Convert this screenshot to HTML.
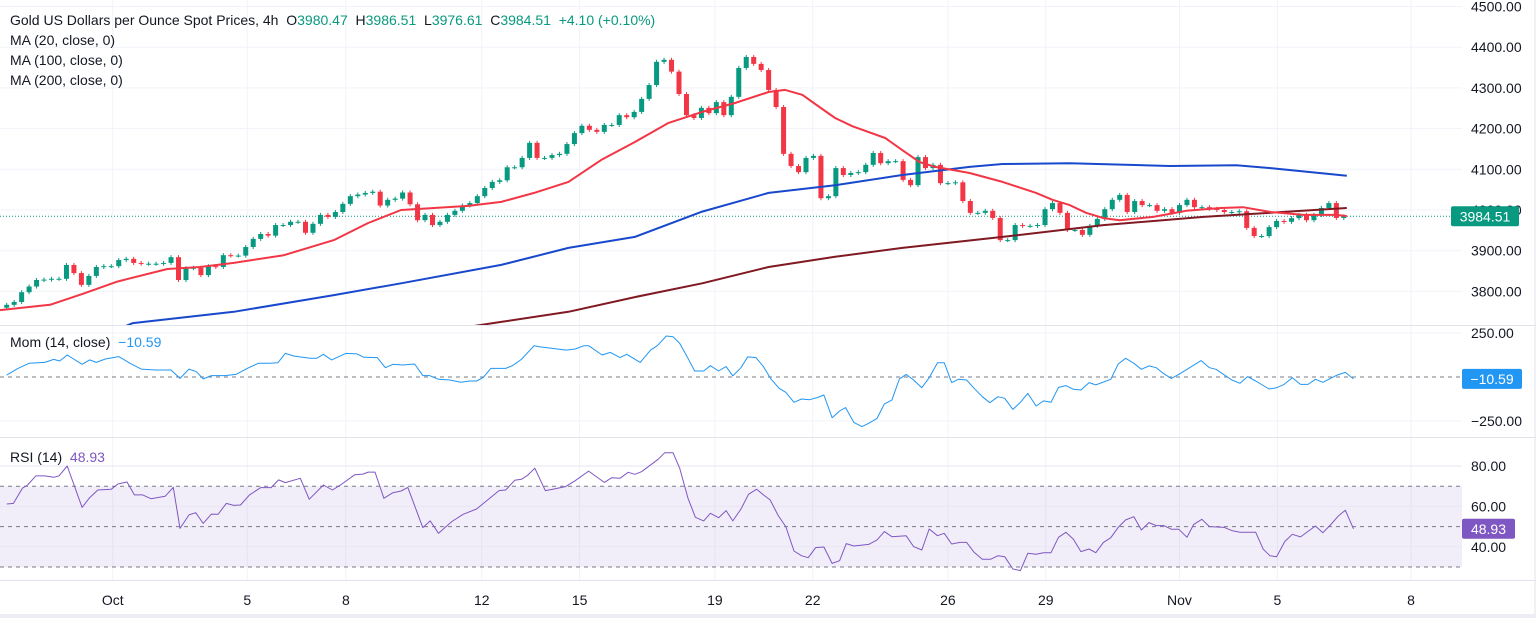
<!DOCTYPE html>
<html><head><meta charset="utf-8"><style>
html,body{margin:0;padding:0;background:#fff;}
svg{display:block;font-family:"Liberation Sans",sans-serif;}
</style></head><body>
<svg id="chart" width="1536" height="618" viewBox="0 0 1536 618" xmlns="http://www.w3.org/2000/svg">
<rect x="0" y="0" width="1536" height="618" fill="#ffffff"/>
<g id="grid"></g>
<g id="marks"></g>
<g id="labels"></g>
</svg>
<script>
// ---- data ----
const closes = [3767,3774,3798,3812,3828,3829,3831,3831,3865,3845,3816,3838,3860,3862,3862,3877,3880,3870,3868,3868,3868,3870,3884,3828,3857,3858,3840,3862,3860,3889,3888,3888,3909,3929,3941,3937,3963,3963,3971,3971,3944,3966,3988,3983,3995,4015,4034,4038,4042,4045,4011,4025,4028,4043,4014,3975,3988,3963,3971,3988,3998,4011,4017,4034,4054,4069,
4073,4105,4105,4128,4165,4128,4128,4135,4138,4162,4189,4207,4197,4192,4209,4209,4233,4228,4241,4273,4307,4364,4369,4340,4285,4233,4226,4251,4238,4265,4233,4278,4349,4376,4359,4344,4295,4253,4138,4108,4093,4128,4133,4029,4034,4103,4086,4091,4093,4111,4140,4115,4120,4120,4074,4061,4130,4103,4111,4066,4066,4068,4022,3993,3993,3998,3980.47,
3926,3926,3963,3961,3961,3963,4002,4017,3993,3951,3951,3939,3961,3978,4002,4025,4037,3995,4022,4012,4012,3998,4002,3993,4012,4025,4007,4007,4003,4000,3995,3995,3997,3956,3936,3936,3958,3973,3971,3980,3988,3975,3988,4005,4017,3980.47,3984.51];
const firstOpen = 3760;
const ma20Idx = [-0.9,5.8,10.2,14.8,21.5,25.9,30.4,37.1,43.8,48.4,52.8,57.2,61.8,66.2,70.6,75.2,79.6,84.1,88.6,93.1,97.5,102.0,104.2,106.5,108.8,110.9,113.2,117.6,119.9,122.2,124.3,128.9,133.3,137.8,140.0,142.3,144.5,146.8,149.0,153.5,157.9,162.5,165.5,169.2,173.6,178.0,179.4];
const ma20Val = [3754,3767,3794,3824,3855,3860,3870,3889,3926,3968,4000,4005,4010,4020,4042,4069,4123,4167,4214,4241,4263,4290,4295,4283,4253,4226,4206,4177,4147,4118,4106,4091,4069,4042,4025,4012,3993,3980,3975,3983,3998,4005,4007,3995,3988,3988,3985];
const ma100Idx = [13.9,16.9,30.4,43.8,52.8,66.2,75.2,84.1,93.1,102.0,110.9,119.9,128.9,133.3,142.3,155.7,164.6,169.2,179.4];
const ma100Val = [3700,3722,3750,3791,3820,3865,3907,3934,3996,4042,4061,4086,4106,4113,4115,4108,4110,4103,4084];
const ma200Idx = [60.8,66.2,75.2,84.1,93.1,102.0,110.9,119.9,133.3,146.8,160.2,179.4];
const ma200Val = [3710,3725,3750,3786,3820,3860,3885,3907,3934,3963,3983,4005];
const momIdx = [0,1.5,3.0,5.1,6.3,7.1,8.1,10.1,11.1,12.0,13.2,15.0,16.5,18.0,19.9,22.0,23.2,24.4,25.4,26.3,27.4,29.2,30.7,32.2,33.7,35.2,36.3,37.3,38.5,40.6,41.5,42.4,43.5,45.4,46.9,47.8,49.6,50.7,51.7,53.0,54.6,55.7,56.6,57.8,59.3,60.8,62.0,62.9,63.8,64.8,66.8,67.7,68.9,70.6,71.3,74.9,76.1,77.3,77.9,79.7,80.8,82.1,83.0,84.8,86.2,87.1,88.3,89.2,90.1,91.2,92.1,93.3,94.2,95.3,96.3,97.2,98.3,99.2,100.3,101.3,102.3,103.4,104.3,105.4,106.4,107.5,108.5,109.4,110.5,111.5,112.3,113.4,114.5,115.4,116.5,117.5,118.5,119.5,120.4,121.4,122.5,123.5,124.6,125.5,126.5,127.4,128.5,129.5,130.6,131.6,132.7,133.6,134.7,135.7,136.7,137.8,138.8,139.8,140.8,141.8,142.8,143.8,144.9,145.8,147.8,148.8,149.8,150.9,151.9,152.9,153.9,154.8,155.9,156.9,159.9,161.0,161.9,162.9,164.0,165.1,166.1,167.2,169.0,170.0,171.0,172.1,173.2,174.2,175.2,176.2,177.2,178.1,179.2,180.3];
const momVal = [11,49,78,83,100,91,125,72,97,83,102,116,78,45,40,40,-8,45,30,-11,8,8,15,49,78,78,81,134,119,106,106,129,97,134,131,112,110,53,72,68,74,8,8,-13,-17,-30,-23,-23,-2,49,49,64,100,178,172,153,159,178,178,125,140,110,129,83,153,178,233,229,191,106,34,34,64,34,59,6,53,114,110,59,-11,-64,-87,-144,-125,-129,-117,-102,-231,-193,-174,-258,-282,-263,-235,-153,-131,-11,15,-17,-61,-4,81,81,-32,-13,-17,-64,-112,-146,-112,-121,-184,-144,-93,-165,-136,-144,-59,-49,-70,-74,-32,-45,-13,74,106,78,44,63,53,21,-8,15,93,53,44,15,-17,-36,2,-23,-68,-61,-42,-4,-42,-42,-13,-30,-8,11,26,-10.59];
const rsiIdx = [0,0.9,2.1,2.8,3.9,5.1,6.3,7.0,8.1,10.1,11.1,12.2,14.0,14.9,16.1,17.1,18.2,19.3,21.2,22.3,23.2,24.4,25.3,26.3,27.4,28.3,29.4,30.4,31.3,32.5,34.0,35.4,36.4,37.3,39.3,40.5,42.4,43.6,44.8,46.6,47.7,48.4,49.3,50.5,51.7,52.8,53.7,55.7,56.7,57.8,59.6,61.1,62.9,65.9,66.8,68.0,68.9,69.8,70.7,72.1,73.1,74.8,76.1,77.9,80.0,81.0,82.1,83.2,84.1,85.0,87.2,88.1,89.2,90.1,91.2,92.2,93.3,94.2,95.3,96.3,97.2,98.3,99.3,100.4,101.3,102.2,103.3,104.3,105.4,106.4,107.3,108.3,109.4,110.5,111.5,112.4,113.4,115.4,116.5,117.5,118.5,120.4,121.4,122.5,123.5,124.6,125.5,126.5,127.6,128.5,129.5,130.6,131.7,132.7,133.6,134.7,135.7,136.7,137.8,138.8,139.8,140.8,141.8,142.8,143.8,144.9,145.8,146.8,147.8,148.8,149.8,150.9,151.9,152.9,153.9,154.9,155.9,156.9,158.0,158.9,160.0,161.0,163.0,164.0,165.1,167.2,168.2,169.1,170.0,171.1,172.1,173.2,175.2,176.2,177.2,178.3,179.2,180.3];
const rsiVal = [61.2,61.5,69.0,70.6,75.1,75.1,74.4,75.1,80.0,59.5,64.3,68.1,68.5,71.1,72.1,65.7,65.7,63.8,65.0,69.4,49.1,55.8,56.9,51.6,56.2,56.1,61.5,60.5,60.7,65.7,69.3,69.3,73.1,71.8,73.9,63.5,70.6,68.1,70.9,75.7,76.0,77.0,77.0,64.0,66.8,67.6,69.4,49.5,52.8,46.7,52.5,56.1,58.7,67.8,68.1,72.9,73.4,75.6,78.9,67.8,68.5,69.8,72.7,77.5,71.9,74.2,73.9,76.9,75.9,77.2,83.3,86.6,86.6,78.9,64.0,54.6,52.8,56.6,54.4,57.9,52.8,58.7,66.0,68.5,65.7,63.2,55.3,50.0,37.9,35.6,34.6,39.6,39.9,31.8,33.1,41.6,40.4,41.2,43.4,47.5,45.0,45.5,40.1,38.4,48.8,45.5,46.7,41.4,42.2,42.2,37.3,33.8,33.8,35.6,35.1,29.0,28.2,36.8,36.3,37.1,37.1,44.7,47.2,43.7,37.6,38.9,37.1,42.1,44.5,49.6,53.3,54.9,48.3,52.0,50.5,50.5,48.7,48.7,44.7,51.1,53.6,50.0,49.6,48.0,47.2,47.2,38.8,35.6,35.1,42.6,46.2,44.9,50.3,47.0,50.8,55.4,58.1,48.93];
const priceTicks = [4500,4400,4300,4200,4100,4000,3900,3800];
const momTicks = [250,-250];
const rsiTicks = [80,60,40];
const dateLabels = ['Oct','5','8','12','15','19','22','26','29','Nov','5','8'];
const dateIdx = [14.2,32.2,45.4,63.6,76.7,94.8,107.9,126.0,139.1,157.0,170.1,188.0];

// ---- scales ----
const X0 = 6.7, STEP = 7.47, PLOT_R = 1462;
const xS = i => X0 + i * STEP;
const yP = p => 210 - (p - 4000) * 0.407;
const yM = v => 377 - v * 0.176;
const yR = v => 466 + (80 - v) * 2.02;

const NS = 'http://www.w3.org/2000/svg';
function mk(tag, attrs, parent) {
  const e = document.createElementNS(NS, tag);
  for (const k in attrs) e.setAttribute(k, attrs[k]);
  parent.appendChild(e);
  return e;
}
const grid = document.getElementById('grid');
const marks = document.getElementById('marks');
const labels = document.getElementById('labels');

const defs = mk('defs', {}, document.getElementById('chart'));
const cp1 = mk('clipPath', {id: 'clipP'}, defs); mk('rect', {x: 0, y: 0, width: PLOT_R, height: 325}, cp1);
const cp2 = mk('clipPath', {id: 'clipM'}, defs); mk('rect', {x: 0, y: 326, width: PLOT_R, height: 110}, cp2);
const cp3 = mk('clipPath', {id: 'clipR'}, defs); mk('rect', {x: 0, y: 438, width: PLOT_R, height: 140}, cp3);

dateLabels.forEach((d, k) => {
  const x = xS(dateIdx[k]);
  const gl = mk('line', {x1: x, x2: x, y1: 0, y2: 580, stroke: '#f0f3fa', 'stroke-width': 1}, grid);
  
  
  const t = mk('text', {x: x, y: 605, 'font-size': 14, fill: '#131722', 'text-anchor': 'middle'}, labels);
  t.textContent = d;
  
  
});
priceTicks.forEach(p => {
  const y = yP(p);
  const gl = mk('line', {x1: 0, x2: PLOT_R, y1: y, y2: y, stroke: '#f0f3fa'}, grid);
  
  
  const t = mk('text', {x: 1471, y: y + 5, 'font-size': 14, fill: '#131722'}, labels);
  t.textContent = p.toFixed(2);
  
  
});
momTicks.forEach(v => {
  const y = yM(v);
  const gl = mk('line', {x1: 0, x2: PLOT_R, y1: y, y2: y, stroke: '#f0f3fa'}, grid);
  
  
  const t = mk('text', {x: 1471, y: y + 5, 'font-size': 14, fill: '#131722'}, labels);
  t.textContent = (v < 0 ? '\u2212' + Math.abs(v).toFixed(2) : v.toFixed(2));
  
  
});
const band = mk('rect', {x: 0, y: yR(70), width: PLOT_R, height: yR(30) - yR(70), fill: 'rgba(126,87,194,0.1)'}, grid);


rsiTicks.forEach(v => {
  const y = yR(v);
  const gl = mk('line', {x1: 0, x2: PLOT_R, y1: y, y2: y, stroke: '#e8e6f3'}, grid);
  
  
  const t = mk('text', {x: 1471, y: y + 5, 'font-size': 14, fill: '#131722'}, labels);
  t.textContent = v.toFixed(2);
  
  
});
[70, 50, 30].forEach(v => {
  const l = mk('line', {x1: 0, x2: PLOT_R, y1: yR(v), y2: yR(v), stroke: '#787b86', 'stroke-dasharray': '4,4'}, grid);
  
  
});
const zl = mk('line', {x1: 0, x2: PLOT_R, y1: yM(0), y2: yM(0), stroke: '#787b86', 'stroke-dasharray': '4,4'}, grid);


[325.5, 437.5, 580.5].forEach(y => {
  const l = mk('line', {x1: 0, x2: 1536, y1: y, y2: y, stroke: '#e0e3eb'}, grid);
  
  
});
const rb = mk('line', {x1: 1535, x2: 1535, y1: 0, y2: 618, stroke: '#e0e3eb'}, grid);


const bb = mk('rect', {x: 0, y: 614, width: 1536, height: 4, fill: '#eceef4'}, grid);



const lastClose = closes[closes.length - 1];
const lp = mk('line', {x1: 0, x2: PLOT_R, y1: yP(lastClose), y2: yP(lastClose), stroke: '#089981', 'stroke-dasharray': '1,2'}, grid);



const cg = mk('g', {'clip-path': 'url(#clipP)'}, marks);
closes.forEach((c, i) => {
  const o = i === 0 ? firstOpen : closes[i - 1];
  const up = c >= o;
  const col = up ? '#089981' : '#f23645';
  const x = xS(i);
  const hi = Math.max(o, c) + 5, lo = Math.min(o, c) - 5;
  const w = mk('line', {x1: x, x2: x, y1: yP(hi), y2: yP(lo), stroke: col, 'stroke-width': 1}, cg);
  
  
  const top = yP(Math.max(o, c)), bot = yP(Math.min(o, c));
  const b = mk('rect', {x: x - 2.5, y: top, width: 5, height: Math.max(1, bot - top), fill: col}, cg);
  
  
});
function line(idx, vals, ys, color, width, clip, name) {
  const d = idx.map((v, k) => (k ? 'L' : 'M') + xS(v).toFixed(1) + ',' + ys(vals[k]).toFixed(1)).join('');
  const p = mk('path', {d: d, fill: 'none', stroke: color, 'stroke-width': width, 'stroke-linejoin': 'round', 'clip-path': 'url(#' + clip + ')'}, marks);
  
  
}
line(ma200Idx, ma200Val, yP, '#801922', 2, 'clipP', 'ma200-line');
line(ma100Idx, ma100Val, yP, '#1848cc', 2, 'clipP', 'ma100-line');
line(ma20Idx, ma20Val, yP, '#f23645', 2, 'clipP', 'ma20-line');
line(momIdx, momVal, yM, '#2196f3', 1, 'clipM', 'momentum-line');
line(rsiIdx, rsiVal, yR, '#7e57c2', 1, 'clipR', 'rsi-line');

function badge(y, txt, bg, x, w, name) {
  const g = mk('g', {}, labels);
  
  
  mk('rect', {x: x, y: y - 10, width: w, height: 20, rx: 2, fill: bg}, g);
  const t = mk('text', {x: x + w / 2, y: y + 5, 'font-size': 14, fill: '#fff', 'text-anchor': 'middle'}, g);
  t.textContent = txt;
}
badge(yP(lastClose), lastClose.toFixed(2), '#089981', 1451, 68, 'last-price-badge');
badge(yM(momVal[momVal.length - 1]), '\u221210.59', '#2196f3', 1462, 60, 'momentum-value-badge');
badge(yR(rsiVal[rsiVal.length - 1]), '48.93', '#7e57c2', 1462, 53, 'rsi-value-badge');
</script>
<div style="position:absolute;left:10px;top:10px;font:14px 'Liberation Sans',sans-serif;color:#131722;line-height:20px;white-space:nowrap;">
<div>Gold US Dollars per Ounce Spot Prices, 4h&nbsp; O<span style="color:#089981">3980.47</span>&nbsp; H<span style="color:#089981">3986.51</span>&nbsp; L<span style="color:#089981">3976.61</span>&nbsp; C<span style="color:#089981">3984.51</span>&nbsp; <span style="color:#089981">+4.10 (+0.10%)</span></div>
<div>MA (20, close, 0)</div>
<div>MA (100, close, 0)</div>
<div>MA (200, close, 0)</div>
</div>
<div style="position:absolute;left:10px;top:334px;font:14px 'Liberation Sans',sans-serif;color:#131722;white-space:nowrap;">Mom (14, close)&nbsp; <span style="color:#2196f3">−10.59</span></div>
<div style="position:absolute;left:10px;top:449px;font:14px 'Liberation Sans',sans-serif;color:#131722;white-space:nowrap;">RSI (14)&nbsp; <span style="color:#7e57c2">48.93</span></div>
</body></html>
